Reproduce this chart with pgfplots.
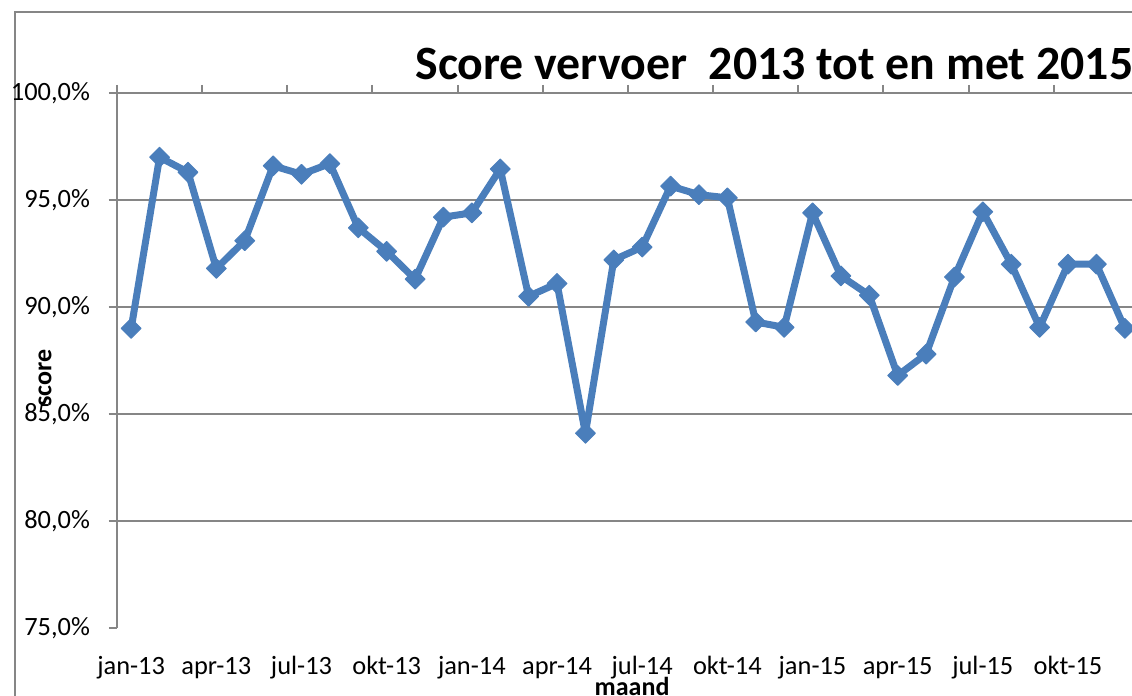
\documentclass[border=0pt]{standalone}
\usepackage{pgfplots}
\pgfplotsset{compat=1.18}
\usepackage{fontspec}
\setmainfont{Carlito}
\definecolor{serie}{HTML}{4A7EBB}
\definecolor{gridgrey}{HTML}{868686}
\pgfplotstableread{
x y
0 89.0
1 97.0
2 96.3
3 91.8
4 93.1
5 96.6
6 96.2
7 96.7
8 93.7
9 92.6
10 91.3
11 94.2
12 94.4
13 96.45
14 90.5
15 91.1
16 84.1
17 92.2
18 92.8
19 95.65
20 95.25
21 95.1
22 89.3
23 89.05
24 94.4
25 91.45
26 90.55
27 86.8
28 87.8
29 91.4
30 94.45
31 92.0
32 89.05
33 92.0
34 92.0
35 89.0
}\scoretable
\begin{document}
\begin{tikzpicture}
\useasboundingbox (-58.5pt,-34pt) rectangle (507.5pt,314pt);
\clip (-58.5pt,-34pt) rectangle (507.5pt,314pt);
\draw[gridgrey, line width=1pt] (-51pt,-60pt) -- (-51pt,308pt) -- (560pt,308pt);
% main axis: data, y axis, grid, bottom labels
\begin{axis}[
  at={(0,0)}, anchor=south west,
  scale only axis, width=511pt, height=267.5pt,
  xmin=-0.5, xmax=35.5, ymin=75, ymax=100,
  axis y line*=left, axis x line*=bottom,
  x axis line style={draw=none},
  y axis line style={draw=gridgrey, line width=1pt},
  xtick={0,3,...,33},
  xticklabels={jan-13,apr-13,jul-13,okt-13,jan-14,apr-14,jul-14,okt-14,jan-15,apr-15,jul-15,okt-15},
  major x tick style={draw=none},
  ytick={75,80,...,100},
  yticklabels={{75,0\%},{80,0\%},{85,0\%},{90,0\%},{95,0\%},{100,0\%}},
  tick align=outside,
  major tick length=4pt,
  major y tick style={draw=gridgrey, line width=1pt},
  extra y ticks={80,85,90,95},
  extra y tick labels={},
  extra y tick style={grid=major, major grid style={draw=gridgrey, line width=1pt}},
  /pgf/number format/assume math mode=true,
  ticklabel style={font=\fontsize{13.2}{15}\selectfont, text=black},
  xticklabel style={anchor=base, yshift=-19.5pt},
  yticklabel style={anchor=east, xshift=-6pt},
  title={\fontsize{23.9}{26}\selectfont\bfseries Score vervoer\ \ 2013 tot en met 2015},
  title style={at={(axis description cs:0.2916,1.0243)}, anchor=base west, inner sep=0pt, yshift=-6pt},
  xlabel={\fontsize{13}{15}\selectfont\bfseries maand},
  xlabel style={at={(axis description cs:0.504,0)}, anchor=base, yshift=-33.6pt, inner sep=0pt},
  ylabel={\fontsize{13}{15}\selectfont\bfseries score},
  ylabel style={at={(axis description cs:-0.0705,0.467)}, anchor=center, inner sep=0pt},
]
\addplot[serie, line width=3.5pt, line join=round, mark=square*, mark size=3.5pt,
  mark options={rotate=45, line width=0.5pt, fill=serie, draw=serie}] table[x=x, y=y] {\scoretable};
\end{axis}
% top axis line with upward tick marks
\begin{axis}[
  at={(0,0)}, anchor=south west,
  scale only axis, width=511pt, height=267.5pt,
  xmin=-0.5, xmax=35.5, ymin=75, ymax=100,
  axis x line*=top, axis y line=none,
  x axis line style={draw=gridgrey, line width=1pt},
  xtick={-0.5,2.5,...,35.5}, xticklabels={},
  tick align=outside, major tick length=4pt,
  major x tick style={draw=gridgrey, line width=1pt},
]
\end{axis}
\end{tikzpicture}
\end{document}
